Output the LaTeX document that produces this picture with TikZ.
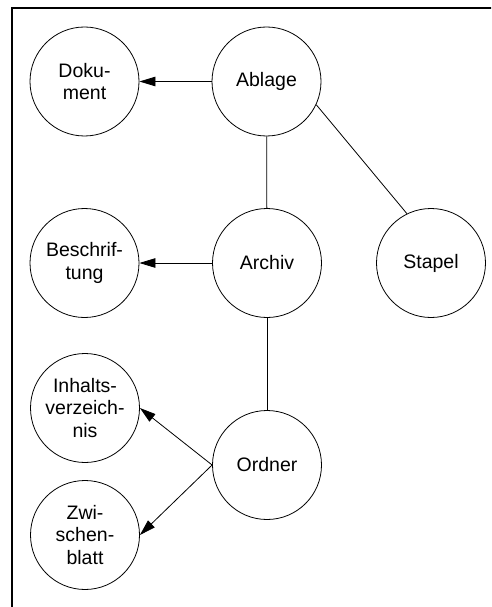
\documentclass[tikz,border=0pt]{standalone}
\usepackage{fontspec}
\setmainfont{Liberation Sans}
\usetikzlibrary{arrows.meta}
\begin{document}
\begin{tikzpicture}[x=1pt,y=-1pt,
  concept/.style={circle,draw,line width=0.8pt,minimum size=109pt,inner sep=0pt,
    align=center,font=\fontsize{19.5}{22.5}\selectfont},
  link/.style={line width=0.8pt},
  ref/.style={line width=0.8pt,-{Triangle[length=16pt,width=9.5pt]}}]
  \useasboundingbox (0,0) rectangle (491,607);
  \clip (0,0) rectangle (491,607);
  % frame
  \draw[line width=2.2pt] (12,610) -- (12,8) -- (495,8);
  % concepts
  \node[concept] (ablage) at (266.5,81.5) {Ablage};
  \node[concept] (dokument) at (84.5,81.5) {Doku-\\ment};
  \node[concept] (archiv) at (267,263) {Archiv};
  \node[concept] (beschriftung) at (84.5,263) {Beschrif-\\tung};
  \node[concept] (stapel) at (431,263) {Stapel};
  \node[concept] (ordner) at (267,465) {Ordner};
  \node[concept] (inhalt) at (85,408) {Inhalts-\\verzeich-\\nis};
  \node[concept] (zwischen) at (85,535) {Zwi-\\schen-\\blatt};
  % connections
  \draw[link] (ablage) -- (archiv);
  \draw[link] (archiv) -- (ordner);
  \draw[link] (ablage.-25) -- (stapel.116);
  \draw[ref] (ablage) -- (dokument);
  \draw[ref] (archiv) -- (beschriftung);
  \draw[ref] (ordner.west) -- (inhalt.east);
  \draw[ref] (ordner.west) -- (zwischen.east);
\end{tikzpicture}
\end{document}
